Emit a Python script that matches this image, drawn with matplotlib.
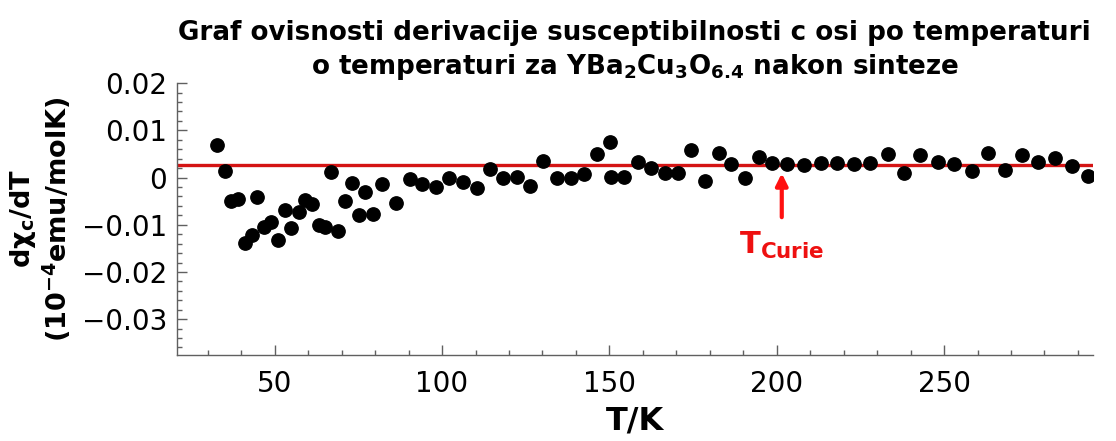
import matplotlib
matplotlib.use('Agg')
import matplotlib.pyplot as plt
from matplotlib.ticker import MultipleLocator, FixedLocator

# temperature in K
T = [32.9, 35.0, 36.9, 39.1, 41.0, 43.3, 44.8, 46.8, 48.9, 51.0, 53.0, 55.0,
     57.2, 59.1, 61.2, 63.1, 65.1, 66.9, 69.0, 71.1, 73.1, 75.1, 77.0, 79.3,
     82.1, 86.3, 90.3, 94.1, 98.2, 102.2, 106.3, 110.3, 114.2, 118.2, 122.3,
     126.4, 130.3, 134.3, 138.4, 142.4, 146.4, 150.2, 150.5, 154.4, 158.5,
     162.5, 166.5, 170.5, 174.4, 178.5, 182.6, 186.4, 190.5, 194.6, 198.6,
     203.0, 208.2, 213.2, 218.1, 223.1, 228.0, 233.3, 238.1, 242.7, 248.1,
     253.0, 258.2, 263.2, 268.2, 273.2, 278.1, 283.1, 288.2, 292.9]

# d(chi_c)/dT in 10^-4 emu/molK
dchi = [0.0069, 0.0014, -0.0049, -0.0045, -0.0138, -0.0121, -0.0042, -0.0105,
        -0.0094, -0.0132, -0.0068, -0.0107, -0.0074, -0.0048, -0.0056, -0.0100,
        -0.0105, 0.0011, -0.0114, -0.0049, -0.0012, -0.0080, -0.0030, -0.0078,
        -0.0013, -0.0053, -0.0003, -0.0014, -0.0020, -0.0002, -0.0010, -0.0023,
        0.0019, -0.0002, 0.0002, -0.0018, 0.0035, -0.0002, 0.0000, 0.0007,
        0.0049, 0.0075, 0.0002, 0.0002, 0.0032, 0.0021, 0.0009, 0.0009,
        0.0059, -0.0008, 0.0051, 0.0028, -0.0002, 0.0043, 0.0030, 0.0028,
        0.0026, 0.0030, 0.0030, 0.0028, 0.0030, 0.0050, 0.0009, 0.0048,
        0.0033, 0.0028, 0.0014, 0.0052, 0.0017, 0.0047, 0.0034, 0.0041,
        0.0025, 0.0004]

# mean level above T_Curie and where the arrow points
level = 0.0026
T_curie = 201.5
xticks = [50, 100, 150, 200, 250]
yticks = [-0.03, -0.02, -0.01, 0, 0.01, 0.02]
ytick_labels = ['\u22120.03', '\u22120.02', '\u22120.01', '0', '0.01', '0.02']

fig = plt.figure(figsize=(11.16, 4.41), dpi=100)
ax = fig.add_axes([0.1583, 0.195, 0.8208, 0.6175])

ax.plot(T, dchi, 'o', color='black', ms=9.6, clip_on=True, zorder=3)
ax.axhline(level, color='#d41414', lw=2.4, zorder=2)

# arrow and label for the Curie temperature
ax.annotate('', xy=(T_curie, 0.0009), xytext=(T_curie, -0.0084),
            arrowprops=dict(arrowstyle='-|>,head_length=0.7,head_width=0.35',
                            color='#ff1010', lw=3, shrinkA=0, shrinkB=0))
ax.text(T_curie, -0.0143, r'T$_\mathbf{Curie}$', color='#ee1010',
        fontsize=22, fontweight='bold', ha='center', va='center')

ax.set_xlim(20.7, 294.4)
ax.set_ylim(-0.0376, 0.0201)

for s in ['top', 'right']:
    ax.spines[s].set_visible(False)
for s in ['left', 'bottom']:
    ax.spines[s].set_color('#606060')
    ax.spines[s].set_linewidth(1.0)

ax.xaxis.set_major_locator(FixedLocator(xticks))
ax.xaxis.set_minor_locator(MultipleLocator(10))
ax.yaxis.set_major_locator(FixedLocator(yticks))
ax.yaxis.set_minor_locator(MultipleLocator(0.002))
ax.set_yticklabels(ytick_labels)
ax.tick_params(which='both', direction='in', color='#606060', width=1.0)
ax.tick_params(which='major', length=7)
ax.tick_params(which='minor', length=3.5)
ax.tick_params(axis='x', labelsize=20, pad=11)
ax.tick_params(axis='y', labelsize=20, pad=7)

ax.set_xlabel('T/K', fontsize=23, fontweight='bold', labelpad=5)
ax.set_ylabel('d\u03c7$_\\mathbf{c}$/dT\n(10$^\\mathbf{-4}$emu/molK)',
              fontsize=19.5, fontweight='bold', labelpad=6, linespacing=1.1)
ax.set_title('Graf ovisnosti derivacije susceptibilnosti c osi po temperaturi\n'
             'o temperaturi za YBa$_\\mathbf{2}$Cu$_\\mathbf{3}$O$_\\mathbf{6.4}$ nakon sinteze',
             fontsize=18.8, fontweight='bold', pad=6, linespacing=1.3)

fig.savefig('out.png', dpi=100)
